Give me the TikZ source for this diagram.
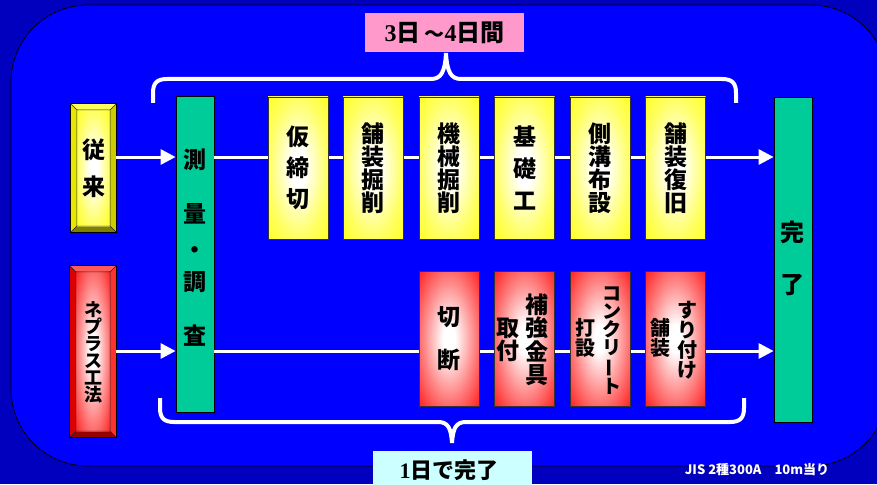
\documentclass[tikz,border=0pt]{standalone}
\usepackage{fontspec}
\usepackage{graphicx}
\setmainfont{Liberation Serif}
\newfontfamily\jp{Noto Sans CJK JP}
\usetikzlibrary{arrows.meta}
\definecolor{bgdark}{RGB}{0,0,190}
\definecolor{bgblue}{RGB}{0,0,255}
\definecolor{grn}{RGB}{0,204,153}
\definecolor{pinkl}{RGB}{255,153,204}
\definecolor{cyanl}{RGB}{204,255,255}
\definecolor{ytop}{RGB}{255,255,90}
\definecolor{yleft}{RGB}{230,230,0}
\definecolor{yright}{RGB}{204,204,0}
\definecolor{ybot}{RGB}{128,128,0}
\definecolor{rtop}{RGB}{255,90,90}
\definecolor{rleft}{RGB}{220,0,0}
\definecolor{rright}{RGB}{255,50,50}
\definecolor{rbot}{RGB}{150,0,0}
\pgfdeclareradialshading{yglow}{\pgfpoint{0bp}{0bp}}{color(0bp)=(white);color(6bp)=(white);color(24bp)=(white!40!yellow);color(42bp)=(yellow);color(100bp)=(yellow)}
\pgfdeclareradialshading{rglow}{\pgfpoint{0bp}{0bp}}{color(0bp)=(white);color(5bp)=(white);color(22bp)=(white!50!red);color(40bp)=(red);color(100bp)=(red)}
\newcommand\mybevel[6]{%
  \node[minimum width=#4pt, minimum height=#5pt, inner sep=0pt] (#1) at (#2,#3) {};
  \fill[#6top] (#1.north west) -- (#1.north east) -- ([shift={(-6,6)}]#1.north east) -- ([shift={(6,6)}]#1.north west) -- cycle;
  \fill[#6left] (#1.north west) -- ([shift={(6,6)}]#1.north west) -- ([shift={(6,-6)}]#1.south west) -- (#1.south west) -- cycle;
  \fill[#6right] (#1.north east) -- ([shift={(-6,6)}]#1.north east) -- ([shift={(-6,-6)}]#1.south east) -- (#1.south east) -- cycle;
  \fill[#6bot] (#1.south west) -- ([shift={(6,-6)}]#1.south west) -- ([shift={(-6,-6)}]#1.south east) -- (#1.south east) -- cycle;
  \shade[shading=#6glow] ([shift={(6,6)}]#1.north west) rectangle ([shift={(-6,-6)}]#1.south east);
  \draw[black!85, line width=0.5pt] (#1.north west) -- ([shift={(6,6)}]#1.north west)
     (#1.north east) -- ([shift={(-6,6)}]#1.north east)
     (#1.south west) -- ([shift={(6,-6)}]#1.south west)
     (#1.south east) -- ([shift={(-6,-6)}]#1.south east)
     ([shift={(6,6)}]#1.north west) rectangle ([shift={(-6,-6)}]#1.south east);
  \draw[black, line width=0.8pt] (#1.north west) rectangle (#1.south east);
}
\tikzset{
  wline/.style={white, line width=3pt},
  warr/.style={white, line width=3pt, -{Triangle[length=15pt,width=15pt]}},
  brace/.style={white, line width=4pt},
  ybox/.style={draw=black!80, line width=0.8pt, shade, shading=yglow, minimum width=60pt, inner sep=0pt, align=center},
  rbox/.style={draw=black!80, line width=0.8pt, shade, shading=rglow, minimum width=60pt, inner sep=0pt, align=center},
  gbox/.style={draw=black, line width=0.8pt, fill=grn, minimum width=38pt, inner sep=0pt},
  jt/.style={font=\jp\bfseries\fontsize{#1}{#1}\selectfont, text=black, inner sep=0pt},
  tsk/.style 2 args={font=\jp\bfseries\fontsize{#1}{#2}\selectfont, text=black, align=center},
}
\begin{document}
\begin{tikzpicture}[x=1pt,y=-1pt]
\useasboundingbox (0,0) rectangle (877,484);
\fill[bgdark] (0,0) rectangle (877,484);
\fill[bgblue, draw=black, line width=0.8pt, rounded corners=77pt] (11,5) rectangle (888,466);

% left bevel boxes
\mybevel{conv}{93.5}{168}{45}{128}{y}
\node[tsk={23}{37}] (convt) at (conv) {従\\来};
\mybevel{nep}{93}{351.5}{46}{171}{r}
\node[tsk={18}{17}] (nept) at (93,352) {ネ\\プ\\ラ\\ス\\工\\法};

% survey and finish
\node[gbox, minimum height=316pt] (survey) at (195,254) {};
\node[jt=23] (s1) at (195,160) {測};
\node[jt=23] (s2) at (195,214) {量};
\node[jt=23] (s3) at (195,253) {・};
\node[jt=23] (s4) at (195,282) {調};
\node[jt=23] (s5) at (195,336) {査};
\node[gbox, minimum height=325pt] (done) at (793,259.5) {};
\node[jt=24] (d1) at (792,232) {完};
\node[jt=24] (d2) at (792,285) {了};

\coordinate (ytop) at (0,157);
\coordinate (ybot) at (0,351);

% flow lines behind boxes
\draw[warr] (conv.east |- ytop) -- (survey.west |- ytop);
\draw[warr] (nep.east |- ybot) -- (survey.west |- ybot);
\draw[warr] (survey.east |- ytop) -- (done.west |- ytop);
\draw[warr] (survey.east |- ybot) -- (done.west |- ybot);

% conventional steps
\node[ybox, minimum height=142pt, tsk={23}{31}] (a1) at (298,168) {仮\\締\\切};
\node[ybox, minimum height=142pt, tsk={23}{23}] (a2) at (373,168) {舗\\装\\掘\\削};
\node[ybox, minimum height=142pt, tsk={23}{23}] (a3) at (449,168) {機\\械\\掘\\削};
\node[ybox, minimum height=142pt, tsk={23}{32}] (a4) at (524.5,168) {基\\礎\\工};
\node[ybox, minimum height=142pt, tsk={23}{23}] (a5) at (600,168) {側\\溝\\布\\設};
\node[ybox, minimum height=142pt, tsk={23}{23}] (a6) at (675.5,168) {舗\\装\\復\\旧};

% neplus steps
\node[rbox, minimum height=135pt, tsk={23}{43}] (b1) at (449,338.5) {切\\断};
\node[rbox, minimum height=135pt] (b2) at (524.5,338.5) {};
\node[tsk={23}{23.5}] (b2a) at (537,340) {補\\強\\金\\具};
\node[tsk={23}{23}] (b2b) at (508,340) {取\\付};
\node[rbox, minimum height=135pt] (b3) at (600,338.5) {};
\node[tsk={19}{18}] (b3a) at (612,341) {コ\\ン\\ク\\リ\\\rotatebox[origin=c]{90}{ー}\\ト};
\node[tsk={20}{20}] (b3b) at (585,338) {打\\設};
\node[rbox, minimum height=135pt] (b4) at (675.5,338.5) {};
\node[tsk={20}{20}] (b4a) at (687,340) {す\\り\\付\\け};
\node[tsk={20}{20}] (b4b) at (660,338) {舗\\装};

% braces
\draw[brace] (153,103) -- (153,93) .. controls (153,83) and (157,79) .. (167,79) -- (431,79)
  .. controls (441,79) and (445,72) .. (446,53) .. controls (447,72) and (451,79) .. (461,79)
  -- (722,79) .. controls (732,79) and (736,83) .. (736,93) -- (736,103);
\draw[brace] (160,398) -- (160,408) .. controls (160,418) and (164,422) .. (174,422) -- (438,422)
  .. controls (448,422) and (451,428) .. (452,443) .. controls (453,428) and (456,422) .. (466,422)
  -- (730,422) .. controls (740,422) and (744,418) .. (744,408) -- (744,398);

% labels
\fill[pinkl] (365,13) rectangle (524,52);
\node[font=\bfseries\fontsize{24}{24}\selectfont, inner sep=0pt] (lab1) at (444.5,33)
  {3{\jp 日\,{\fontsize{20}{20}\selectfont ～}}4{\jp 日間}};
\fill[cyanl] (373,451) rectangle (532,490);
\node[font=\bfseries\fontsize{22}{22}\selectfont, inner sep=0pt] (lab2) at (449,470)
  {1{\jp 日で完了}};
\node[font=\jp\bfseries\fontsize{13}{13}\selectfont, text=white, inner sep=0pt] (jis) at (757,470)
  {JIS\ 2種300A　10m当り};
\end{tikzpicture}
\end{document}
